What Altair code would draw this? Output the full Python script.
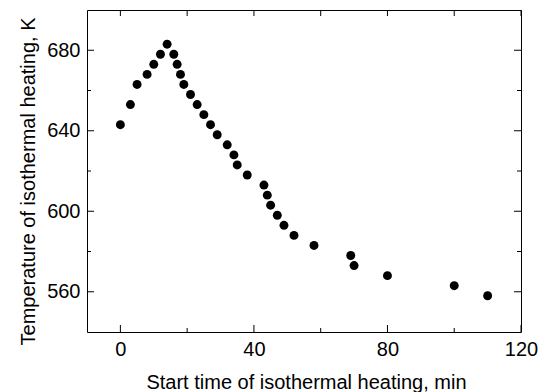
import altair as alt
import pandas as pd

# Data
time_min = [0, 3, 5, 8, 10, 12, 14, 16, 17, 18, 19, 21, 23, 25, 27, 29, 32, 34,
            35, 38, 43, 44, 45, 47, 49, 52, 58, 69, 70, 80, 100, 110]
temp_k = [643, 653, 663, 668, 673, 678, 683, 678, 673, 668, 663, 658, 653, 648,
          643, 638, 633, 628, 623, 618, 613, 608, 603, 598, 593, 588, 583, 578,
          573, 568, 563, 558]

x_major = [0, 40, 80, 120]
x_minor = [20, 60, 100]
x_all = [0, 20, 40, 60, 80, 100, 120]
y_major = [560, 600, 640, 680]
y_minor = [580, 620, 660]

W, H = 434, 322
FONT = "Liberation Sans"

xs = alt.Scale(domain=[-10, 120], nice=False, zero=False)
ys = alt.Scale(domain=[540, 700], nice=False, zero=False)

x_axis = alt.Axis(
    values=x_major, ticks=False, domain=False, grid=False,
    labelFont=FONT, labelFontSize=20, labelColor="black",
    labelPadding=23, labelBaseline="alphabetic", labelFlush=False,
    title="Start time of isothermal heating, min",
    titleFont=FONT, titleFontSize=20, titleFontWeight="normal",
    titleColor="black", titleBaseline="alphabetic",
    titleY=56, titleX=W / 2 + 2)
y_axis = alt.Axis(
    values=y_major, ticks=False, domain=False, grid=False,
    labelFont=FONT, labelFontSize=20, labelColor="black",
    labelPadding=7, labelFlush=False,
    title="Temperature of isothermal heating, K",
    titleFont=FONT, titleFontSize=20, titleFontWeight="normal",
    titleColor="black", titleBaseline="alphabetic", titleAngle=270,
    titleAlign="center", titleX=-53, titleY=171)

df = pd.DataFrame({"t": time_min, "T": temp_k})

points = alt.Chart(df).mark_circle(size=80, color="black", opacity=1).encode(
    x=alt.X("t:Q", scale=xs, axis=x_axis, title="Start time of isothermal heating, min"),
    y=alt.Y("T:Q", scale=ys, axis=y_axis, title="Temperature of isothermal heating, K"),
)


def xticks(vals, y0, y1):
    d = pd.DataFrame({"v": vals})
    return alt.Chart(d).mark_rule(color="black", strokeWidth=1).encode(
        x=alt.X("v:Q", scale=xs, axis=x_axis, title="Start time of isothermal heating, min"),
        y=alt.value(y0), y2=alt.value(y1))


def yticks(vals, x0, x1):
    d = pd.DataFrame({"v": vals})
    return alt.Chart(d).mark_rule(color="black", strokeWidth=1).encode(
        y=alt.Y("v:Q", scale=ys, axis=y_axis, title="Temperature of isothermal heating, K"),
        x=alt.value(x0), x2=alt.value(x1))


layers = [
    points,
    xticks(x_major, H, H - 7),
    xticks(x_minor, H, H - 4),
    xticks(x_all, 0, 6),
    yticks(y_major, 0, 7),
    yticks(y_minor, 0, 4),
    yticks(y_major, W, W - 7),
    yticks(y_minor, W, W - 4),
]

chart = alt.layer(*layers).properties(
    width=W, height=H,
    padding={"left": 87, "top": 10, "right": 27, "bottom": 60},
    autosize="none",
).configure_view(stroke="black", strokeWidth=1)

chart.save("out.html", embed_options={"renderer": "svg", "actions": False})
